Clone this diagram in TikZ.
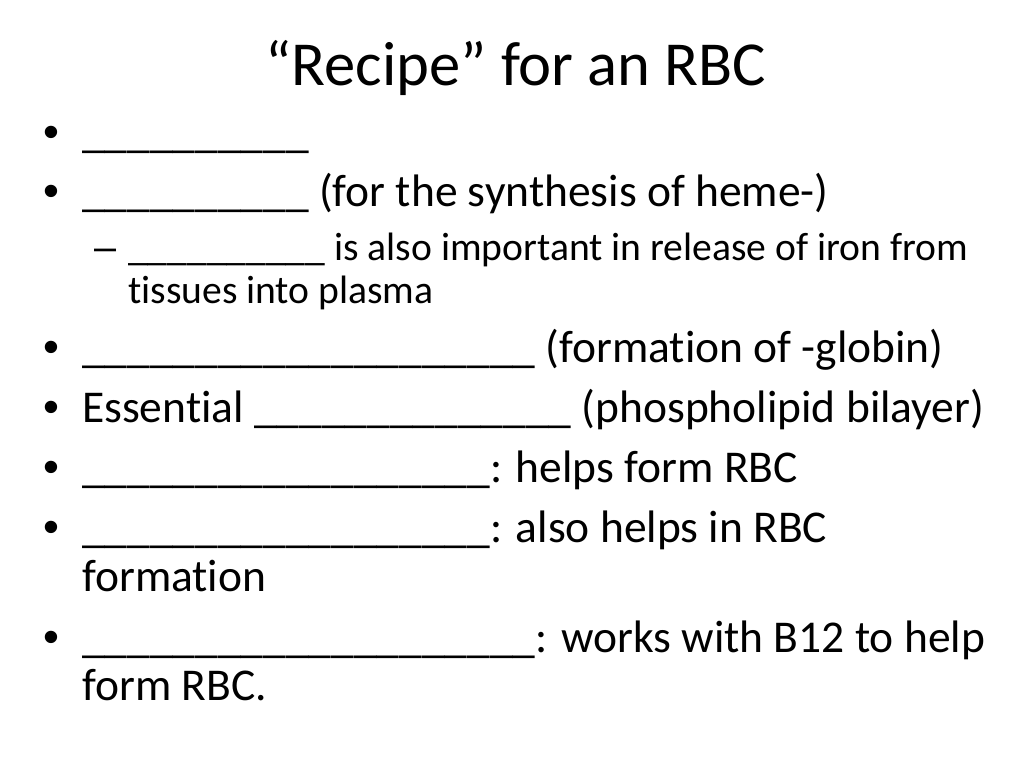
\documentclass[tikz,border=0pt]{standalone}
\usepackage{fontspec}
\setmainfont{Carlito}[Ligatures={NoCommon,NoContextual}]
\newfontfamily\markfont{Liberation Sans}
\usepackage{tikz}
\usetikzlibrary{positioning}

\newcommand{\fillin}[1]{\foreach \k in {1,...,#1}{\_}}

\tikzset{
  titletext/.style={anchor=base, inner sep=0pt, font=\fontsize{62.6}{70}\selectfont},
  bodytext/.style={anchor=base west, inner sep=0pt, font=\fontsize{45.5}{50}\selectfont},
  subtext/.style={anchor=base west, inner sep=0pt, font=\fontsize{39.6}{43}\selectfont},
  dot/.style={anchor=base, inner sep=0pt, font=\markfont\fontsize{45.5}{50}\selectfont},
}

\begin{document}
\begin{tikzpicture}[x=1pt,y=-1pt]
            \fill[white] (0,0) rectangle (1024,768);
            \useasboundingbox (0,0) rectangle (1024,768);
            \node[titletext] (title) at (516, 85) {“Recipe” for an RBC};
            % bullets
            \foreach \n/\yy in {1/147,2/206,4/362,5/422,6/482,7/542,8/652}
                 \node[dot] (dot\n) at (51,\yy) {•};
            \node[dot, font=\markfont\fontsize{39.6}{43}\selectfont] (dash3) at (106,260) {–};
            % lines
            \node[bodytext] (l1)  at ( 82,147) {\fillin{10}};
            \node[bodytext] (l2)  at ( 82,206) {\fillin{10} (for the synthesis of heme-)};
            \node[subtext]  (l3a) at (128,260) {\fillin{10} is also important in release of iron from};
            \node[subtext]  (l3b) at (128,303) {tissues into plasma};
            \node[bodytext] (l4)  at ( 82,362) {\fillin{20} (formation of -globin)};
            \node[bodytext] (l5)  at ( 82,422) {Essential \fillin{14} (phospholipid bilayer)};
            \node[bodytext] (l6)  at ( 82,482) {\fillin{18}: helps form RBC};
            \node[bodytext] (l7a) at ( 82,542) {\fillin{18}: also helps in RBC};
            \node[bodytext] (l7b) at ( 82,591) {formation};
            \node[bodytext] (l8a) at ( 82,652) {\fillin{20}: works with B12 to help};
            \node[bodytext] (l8b) at ( 82,700) {form RBC.};
\end{tikzpicture}
\end{document}
